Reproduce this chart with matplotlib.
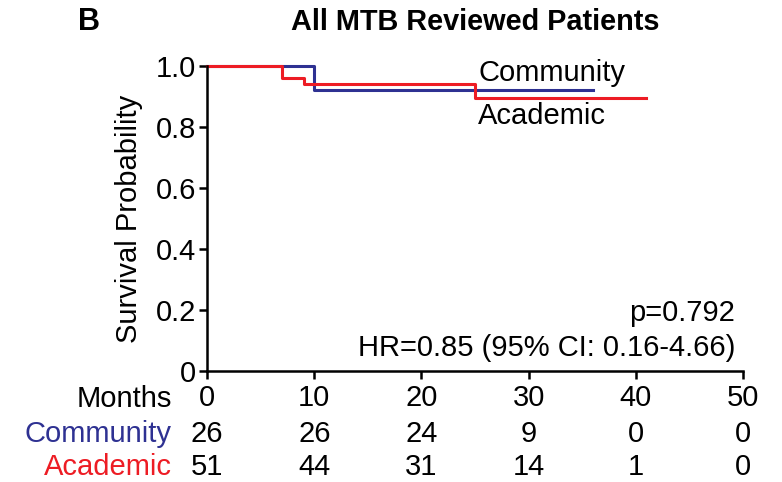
import numpy as np
import matplotlib.pyplot as plt
from matplotlib.transforms import blended_transform_factory

plt.rcParams['font.family'] = ['Liberation Sans', 'DejaVu Sans']

# KM step curves (months, survival)
comm_t = [0, 10, 36]
comm_s = [1.0, 0.923, 0.923]
acad_t = [0, 7, 9, 25, 41]
acad_s = [1.0, 0.961, 0.941, 0.896, 0.896]

months = [0, 10, 20, 30, 40, 50]
comm_risk = [26, 26, 24, 9, 0, 0]
acad_risk = [51, 44, 31, 14, 1, 0]

blue = '#2e3192'
red = '#ed1c24'
fs = 21

fig = plt.figure(figsize=(7.82, 4.82), dpi=100)
ax = fig.add_axes([0.265, 0.23, 0.685, 0.633])

ax.step(comm_t, comm_s, where='post', color=blue, lw=2.2, clip_on=False)
ax.step(acad_t, acad_s, where='post', color=red, lw=2.2, clip_on=False)

ax.set_xlim(0, 50)
ax.set_ylim(0, 1.0)
ax.set_xticks(months)
ax.set_yticks([0, 0.2, 0.4, 0.6, 0.8, 1.0])
ax.set_yticklabels(['0', '0.2', '0.4', '0.6', '0.8', '1.0'])
ax.tick_params(labelsize=fs, width=1.8, length=6, direction='out', pad=2)
ax.tick_params(axis='x', pad=3)
for s in ['top', 'right']:
    ax.spines[s].set_visible(False)
for s in ['left', 'bottom']:
    ax.spines[s].set_linewidth(1.8)

ax.set_ylabel('Survival Probability', fontsize=fs, labelpad=9)
ax.set_title('All MTB Reviewed Patients', fontsize=20.8, fontweight='bold', pad=26)
fig.text(0.10, 0.955, 'B', fontsize=22, fontweight='bold', ha='left', va='center')

ax.text(25.3, 0.976, 'Community', fontsize=fs, ha='left', va='center')
ax.text(25.3, 0.836, 'Academic', fontsize=fs, ha='left', va='center')
ax.text(49.3, 0.19, 'p=0.792', fontsize=fs, ha='right', va='center')
ax.text(49.3, 0.075, 'HR=0.85 (95% CI: 0.16-4.66)', fontsize=fs, ha='right', va='center')

tr = blended_transform_factory(ax.transData, ax.transAxes)
ax.text(-3.3, -0.09, 'Months', fontsize=fs, ha='right', va='center', transform=tr)
ax.text(-3.3, -0.205, 'Community', fontsize=fs, ha='right', va='center', color=blue, transform=tr)
ax.text(-3.3, -0.315, 'Academic', fontsize=fs, ha='right', va='center', color=red, transform=tr)
for m, c, a in zip(months, comm_risk, acad_risk):
    ax.text(m, -0.205, str(c), fontsize=fs, ha='center', va='center', transform=tr)
    ax.text(m, -0.315, str(a), fontsize=fs, ha='center', va='center', transform=tr)

fig.savefig('out.png', dpi=100)
